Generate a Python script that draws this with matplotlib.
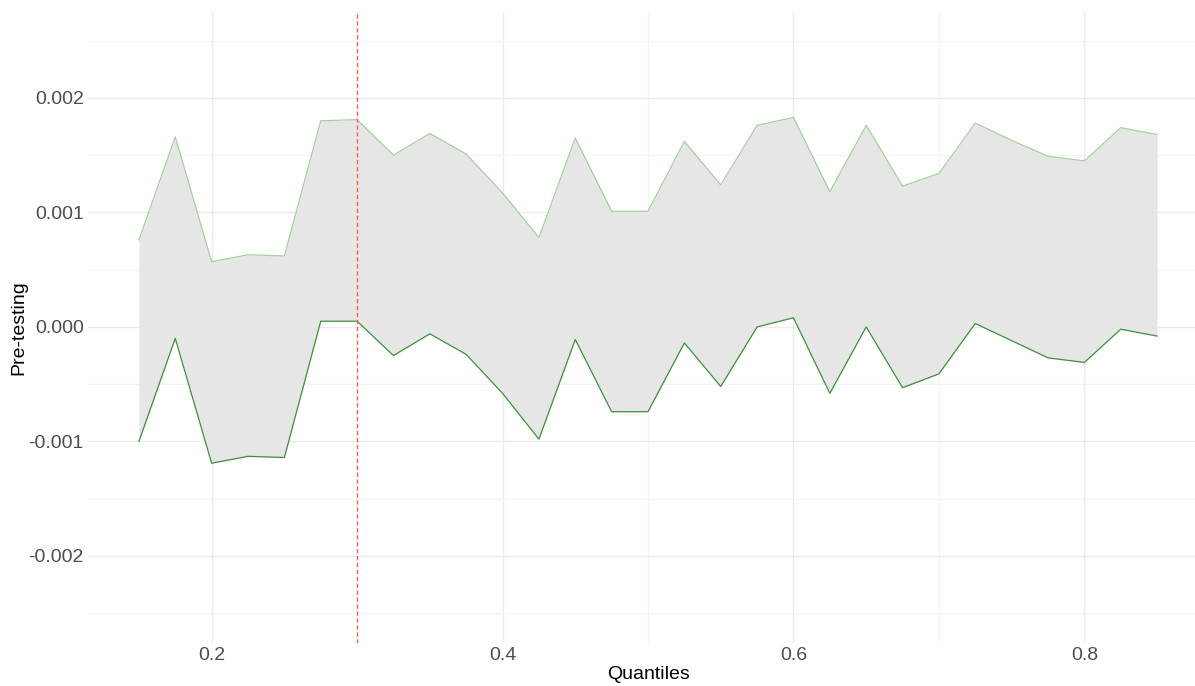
import numpy as np
import matplotlib.pyplot as plt
from matplotlib.ticker import MultipleLocator

plt.rcParams['font.family'] = ['Liberation Sans', 'DejaVu Sans']

# quantile grid and pre-testing bounds
quantiles = np.arange(29) * 0.025 + 0.15
upper = [0.00076, 0.00166, 0.00057, 0.00063, 0.00062, 0.00180, 0.00181, 0.00150,
         0.00169, 0.00151, 0.00117, 0.00078, 0.00165, 0.00101, 0.00101, 0.00162,
         0.00124, 0.00176, 0.00183, 0.00118, 0.00176, 0.00123, 0.00134, 0.00178,
         0.00163, 0.00149, 0.00145, 0.00174, 0.00168]
lower = [-0.00100, -0.00010, -0.00119, -0.00113, -0.00114, 0.00005, 0.00005, -0.00025,
         -0.00006, -0.00024, -0.00058, -0.00098, -0.00011, -0.00074, -0.00074, -0.00014,
         -0.00052, 0.00000, 0.00008, -0.00058, 0.00000, -0.00053, -0.00041, 0.00003,
         -0.00012, -0.00027, -0.00031, -0.00002, -0.00008]
cutoff = 0.3

fig = plt.figure(figsize=(11.95, 6.86), dpi=100)
ax = fig.add_axes([88 / 1195, 43 / 686, 1120 / 1195, 631 / 686])

ax.fill_between(quantiles, lower, upper, color='#e6e6e6', linewidth=0, zorder=2)
ax.plot(quantiles, upper, color='#a8cfa2', linewidth=0.9, zorder=3)
ax.plot(quantiles, lower, color='#3f8f3f', linewidth=0.9, zorder=3)
ax.axvline(cutoff, color='#ff5a5a', linestyle=(0, (3, 2)), linewidth=1.0, zorder=4)

ax.set_xlim(0.115, 0.885)
ax.set_ylim(-0.00276, 0.00275)
ax.xaxis.set_minor_locator(MultipleLocator(0.1))
ax.yaxis.set_minor_locator(MultipleLocator(0.0005))
ax.set_yticks([-0.002, -0.001, 0.0, 0.001, 0.002])
ax.set_yticklabels(['-0.002', '-0.001', '0.000', '0.001', '0.002'])
ax.set_xticks([0.2, 0.4, 0.6, 0.8])
ax.set_xticklabels(['0.2', '0.4', '0.6', '0.8'])

ax.grid(True, which='major', color='#ebebeb', linewidth=1.0, zorder=0)
ax.grid(True, which='minor', color='#f3f3f3', linewidth=0.8, zorder=0)
ax.set_axisbelow(True)
for s in ax.spines.values():
    s.set_visible(False)
ax.tick_params(which='both', length=0, labelsize=14, labelcolor='#4d4d4d')
ax.tick_params(axis='x', pad=3)
ax.tick_params(axis='y', pad=3)

ax.set_xlabel('Quantiles', fontsize=14, labelpad=1)
ax.set_ylabel('Pre-testing', fontsize=14, labelpad=1)

fig.savefig('out.png', dpi=100)
